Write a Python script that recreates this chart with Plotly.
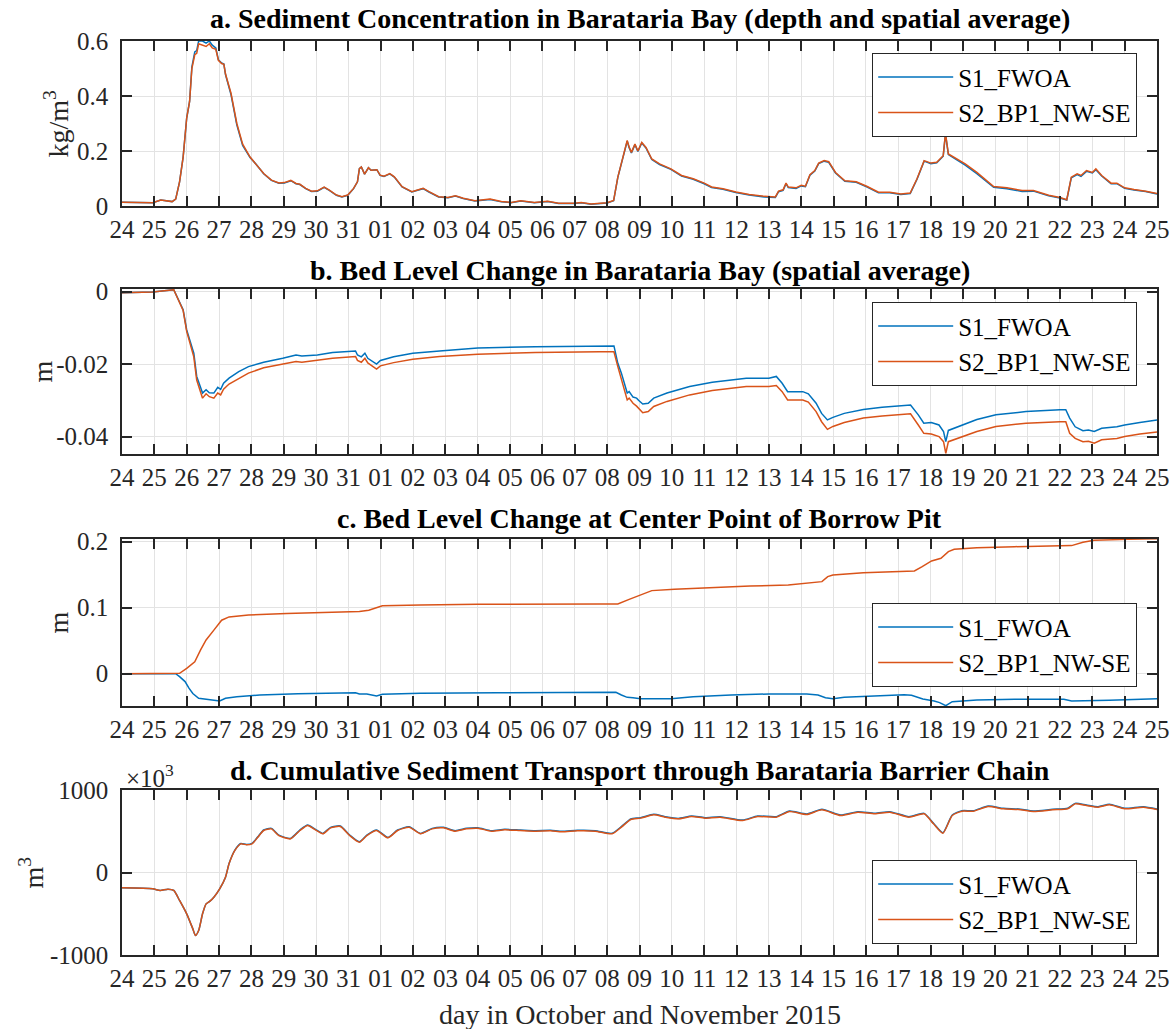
import plotly.graph_objects as go

# ---------------- data ----------------
# time axis: days since 24 Oct 2015 00:00
tick_vals = [0, 1, 2, 3, 4, 5, 6, 7, 8, 9, 10, 11, 12, 13, 14, 15, 16,
             17, 18, 19, 20, 21, 22, 23, 24, 25, 26, 27, 28, 29, 30, 31, 32]
tick_labels = ["24", "25", "26", "27", "28", "29", "30", "31", "01", "02", "03",
               "04", "05", "06", "07", "08", "09", "10", "11", "12", "13", "14",
               "15", "16", "17", "18", "19", "20", "21", "22", "23", "24", "25"]

series_names = ["S1_FWOA", "S2_BP1_NW-SE"]

# a. sediment concentration (kg/m3)
t_a = [0, 0.5, 0.95, 1.2, 1.4, 1.55, 1.66, 1.78, 1.89, 2.0, 2.09, 2.16, 2.25, 2.31, 2.37,
       2.49, 2.6, 2.7, 2.79, 2.9, 2.98, 3.08, 3.15, 3.2, 3.37, 3.55, 3.73, 3.96, 4.14, 4.38,
       4.62, 4.85, 5.02, 5.22, 5.38, 5.5, 5.68, 5.86, 6.04, 6.25, 6.41, 6.63, 6.8, 6.98, 7.16,
       7.28, 7.34, 7.4, 7.5, 7.62, 7.7, 7.82, 7.88, 7.98, 8.1, 8.28, 8.42, 8.66, 8.96, 9.14,
       9.31, 9.49, 9.79, 10.08, 10.31, 10.55, 10.91, 11.38, 11.73, 12.03, 12.33, 12.75, 13.16,
       13.5, 13.99, 14.2, 14.5, 15.0, 15.2, 15.33, 15.44, 15.5, 15.62, 15.68, 15.75, 15.86,
       15.95, 16.07, 16.2, 16.38, 16.62, 16.97, 17.3, 17.66, 18.0, 18.23, 18.58, 18.98, 19.39,
       19.86, 20.2, 20.3, 20.44, 20.53, 20.6, 20.84, 21.0, 21.13, 21.27, 21.42, 21.54, 21.71,
       21.85, 22.06, 22.35, 22.7, 23.04, 23.39, 23.74, 24.08, 24.37, 24.58, 24.8, 25.01, 25.19,
       25.39, 25.46, 25.55, 25.72, 26.07, 26.43, 26.78, 26.95, 27.36, 27.83, 28.18, 28.65, 29.0,
       29.21, 29.35, 29.53, 29.65, 29.82, 30.0, 30.11, 30.29, 30.58, 30.76, 31.0, 31.29, 31.65,
       32.0]
conc_s2 = [0.014, 0.012, 0.012, 0.022, 0.018, 0.016, 0.025, 0.088, 0.178, 0.32, 0.38, 0.5,
           0.55, 0.555, 0.59, 0.585, 0.58, 0.59, 0.575, 0.57, 0.53, 0.518, 0.515, 0.48, 0.41,
           0.3, 0.225, 0.178, 0.154, 0.118, 0.094, 0.084, 0.085, 0.093, 0.082, 0.079, 0.064,
           0.054, 0.055, 0.069, 0.058, 0.04, 0.034, 0.04, 0.064, 0.088, 0.136, 0.142, 0.116,
           0.139, 0.13, 0.13, 0.132, 0.112, 0.108, 0.118, 0.106, 0.07, 0.052, 0.058, 0.064,
           0.052, 0.034, 0.031, 0.037, 0.028, 0.019, 0.025, 0.016, 0.013, 0.019, 0.013, 0.017,
           0.01, 0.01, 0.013, 0.007, 0.012, 0.02, 0.105, 0.153, 0.177, 0.238, 0.214, 0.195,
           0.225, 0.2, 0.231, 0.213, 0.171, 0.153, 0.135, 0.111, 0.099, 0.083, 0.069, 0.063,
           0.051, 0.042, 0.035, 0.033, 0.054, 0.059, 0.083, 0.069, 0.066, 0.075, 0.072, 0.114,
           0.129, 0.156, 0.165, 0.161, 0.122, 0.092, 0.088, 0.071, 0.05, 0.05, 0.044, 0.047,
           0.099, 0.165, 0.156, 0.159, 0.183, 0.264, 0.189, 0.177, 0.153, 0.122, 0.087, 0.071,
           0.066, 0.056, 0.056, 0.039, 0.031, 0.023, 0.105, 0.117, 0.111, 0.129, 0.122, 0.135,
           0.111, 0.083, 0.083, 0.066, 0.06, 0.054, 0.045]
conc_s1 = [0.014, 0.012, 0.012, 0.022, 0.018, 0.016, 0.025, 0.088, 0.178, 0.32, 0.38, 0.505,
           0.56, 0.565, 0.6, 0.6, 0.592, 0.6, 0.585, 0.575, 0.532, 0.52, 0.516, 0.478, 0.405,
           0.295, 0.22, 0.176, 0.153, 0.117, 0.093, 0.083, 0.084, 0.092, 0.081, 0.078, 0.063,
           0.053, 0.054, 0.068, 0.057, 0.039, 0.033, 0.039, 0.063, 0.088, 0.136, 0.142, 0.116,
           0.139, 0.13, 0.13, 0.132, 0.111, 0.107, 0.117, 0.105, 0.069, 0.051, 0.057, 0.063,
           0.051, 0.033, 0.03, 0.036, 0.027, 0.018, 0.024, 0.015, 0.012, 0.018, 0.012, 0.016,
           0.009, 0.009, 0.012, 0.006, 0.011, 0.019, 0.104, 0.152, 0.176, 0.236, 0.212, 0.193,
           0.223, 0.198, 0.229, 0.211, 0.169, 0.151, 0.133, 0.109, 0.097, 0.081, 0.067, 0.061,
           0.049, 0.04, 0.033, 0.031, 0.052, 0.057, 0.081, 0.067, 0.064, 0.073, 0.07, 0.112,
           0.127, 0.154, 0.163, 0.159, 0.12, 0.09, 0.086, 0.069, 0.048, 0.048, 0.042, 0.045,
           0.097, 0.163, 0.154, 0.157, 0.181, 0.262, 0.187, 0.174, 0.149, 0.118, 0.083, 0.068,
           0.063, 0.053, 0.054, 0.037, 0.029, 0.022, 0.102, 0.114, 0.108, 0.126, 0.12, 0.132,
           0.109, 0.081, 0.081, 0.064, 0.058, 0.053, 0.044]

# b. bed level change in Barataria Bay (m)
t_b = [0, 0.95, 1.6, 1.72, 1.89, 2.0, 2.13, 2.22, 2.31, 2.39, 2.49, 2.6, 2.7, 2.84, 2.96,
       3.05, 3.14, 3.31, 3.61, 3.91, 4.38, 4.97, 5.38, 5.56, 6.04, 6.51, 7.22, 7.28, 7.4,
       7.51, 7.6, 7.87, 7.99, 8.4, 8.99, 9.82, 11.0, 12.78, 14.77, 15.21, 15.33, 15.44, 15.62,
       15.68, 15.8, 15.91, 15.97, 16.1, 16.27, 16.44, 16.85, 17.55, 18.25, 19.3, 20.0, 20.23,
       20.41, 20.58, 21.05, 21.22, 21.46, 21.63, 21.81, 21.98, 22.33, 22.92, 23.5, 24.09,
       24.38, 24.62, 24.79, 25.02, 25.26, 25.4, 25.47, 25.55, 25.85, 26.43, 27.02, 27.95, 29.0,
       29.18, 29.3, 29.47, 29.71, 29.88, 30.06, 30.29, 30.76, 31.0, 31.47, 32.0]
bed_bay_s1 = [-0.0003, -0.0001, 0.0005, -0.0018, -0.005, -0.0106, -0.0143, -0.017, -0.0234,
              -0.0253, -0.028, -0.0271, -0.0279, -0.028, -0.0264, -0.027, -0.0253, -0.0239,
              -0.0221, -0.0207, -0.0195, -0.0184, -0.0175, -0.0178, -0.0175, -0.0168, -0.0164,
              -0.0175, -0.018, -0.017, -0.0184, -0.02, -0.019, -0.018, -0.017, -0.0164, -0.0156,
              -0.0152, -0.015, -0.015, -0.0198, -0.0225, -0.028, -0.0276, -0.0291, -0.0294,
              -0.03, -0.031, -0.0308, -0.0294, -0.028, -0.0262, -0.025, -0.0239, -0.0239,
              -0.0234, -0.0253, -0.0276, -0.0276, -0.0282, -0.0308, -0.0336, -0.0354, -0.0347,
              -0.0336, -0.0325, -0.0319, -0.0315, -0.0313, -0.034, -0.0363, -0.0361, -0.0368,
              -0.0386, -0.0414, -0.0383, -0.0373, -0.0353, -0.034, -0.0331, -0.0326, -0.0326,
              -0.0349, -0.0373, -0.0384, -0.0382, -0.0386, -0.0377, -0.0373, -0.0368, -0.0361,
              -0.0354]
bed_bay_s2 = [-0.0003, -0.0001, 0.0005, -0.0018, -0.0052, -0.011, -0.015, -0.018, -0.0244,
              -0.0267, -0.0294, -0.0282, -0.029, -0.0294, -0.028, -0.0285, -0.0269, -0.0255,
              -0.0239, -0.0225, -0.021, -0.02, -0.0193, -0.0195, -0.019, -0.0184, -0.0179,
              -0.019, -0.0195, -0.0184, -0.0197, -0.0214, -0.0205, -0.0196, -0.0187, -0.0179,
              -0.0173, -0.0168, -0.0166, -0.0166, -0.0207, -0.0244, -0.0299, -0.0294, -0.0308,
              -0.0316, -0.0322, -0.0334, -0.0331, -0.0317, -0.0303, -0.0285, -0.0273, -0.0262,
              -0.0262, -0.0259, -0.0276, -0.0299, -0.0299, -0.0305, -0.0331, -0.0359, -0.038,
              -0.0372, -0.0361, -0.0349, -0.0343, -0.034, -0.0337, -0.0368, -0.0391, -0.0393,
              -0.04, -0.0414, -0.0446, -0.0414, -0.0405, -0.0386, -0.0372, -0.0363, -0.0359,
              -0.0359, -0.0391, -0.0405, -0.0414, -0.0413, -0.0418, -0.0409, -0.0405, -0.04,
              -0.0393, -0.0387]

# c. bed level change at center point of borrow pit (m)
t_c1 = [0, 1.66, 1.78, 1.95, 2.07, 2.19, 2.37, 2.6, 2.84, 3.02, 3.2, 3.55, 4.26, 5.44, 7.22,
        7.34, 7.57, 7.87, 8.05, 9.23, 11.6, 14.77, 15.27, 15.44, 15.62, 15.8, 16.03, 16.97,
        17.66, 18.83, 20.0, 21.17, 21.52, 21.75, 21.98, 22.33, 23.25, 24.18, 24.41, 24.76,
        25.11, 25.28, 25.47, 25.67, 26.43, 27.6, 29.12, 29.36, 30.53, 32.0]
bed_pit_s1 = [0, 0, -0.0045, -0.012, -0.022, -0.03, -0.0374, -0.0389, -0.041, -0.0414,
              -0.0374, -0.035, -0.0323, -0.0303, -0.0288, -0.0308, -0.0308, -0.0338, -0.0313,
              -0.0298, -0.0288, -0.0283, -0.0283, -0.0323, -0.0359, -0.0364, -0.0379, -0.0379,
              -0.0348, -0.0323, -0.0308, -0.0308, -0.0323, -0.0364, -0.0379, -0.0359, -0.0338,
              -0.0318, -0.0328, -0.0384, -0.0414, -0.0439, -0.0485, -0.0424, -0.0399, -0.0389,
              -0.0389, -0.0414, -0.0404, -0.0379]
t_c2 = [0, 1.66, 1.78, 2.0, 2.25, 2.43, 2.6, 2.84, 3.08, 3.31, 3.91, 5.09, 6.27, 7.34, 7.63,
        8.05, 9.23, 11.0, 14.77, 15.33, 15.68, 16.03, 16.38, 17.08, 18.25, 19.42, 20.6, 21.18,
        21.64, 21.82, 21.98, 22.92, 24.09, 24.5, 24.74, 25.03, 25.32, 25.55, 25.73, 26.43,
        27.6, 28.77, 29.36, 29.71, 30.06, 31.11, 32.0]
bed_pit_s2 = [0, 0, 0.0005, 0.008, 0.018, 0.036, 0.051, 0.066, 0.081, 0.086, 0.089, 0.091,
              0.093, 0.094, 0.096, 0.103, 0.104, 0.105, 0.1056, 0.1056, 0.1126, 0.119, 0.1258,
              0.1278, 0.1308, 0.1328, 0.1343, 0.1369, 0.1394, 0.147, 0.1495, 0.153, 0.1545,
              0.1556, 0.1621, 0.1707, 0.1747, 0.1848, 0.1884, 0.1909, 0.1924, 0.1934, 0.194,
              0.199, 0.202, 0.2035, 0.2045]

# d. cumulative sediment transport (x10^3 m3)
t_d = [0, 0.95, 1.18, 1.42, 1.6, 1.78, 2.0, 2.19, 2.27, 2.37, 2.49, 2.6, 2.72, 2.84, 3.02,
       3.2, 3.31, 3.49, 3.67, 3.85, 4.02, 4.2, 4.38, 4.62, 4.85, 5.21, 5.5, 5.74, 5.98, 6.21,
       6.45, 6.75, 7.04, 7.34, 7.57, 7.87, 8.22, 8.52, 8.88, 9.23, 9.59, 9.94, 10.3, 10.65,
       11.0, 11.42, 11.83, 12.31, 12.78, 13.25, 13.6, 14.08, 14.63, 15.15, 15.44, 15.73,
       16.03, 16.44, 16.79, 17.2, 17.61, 18.02, 18.49, 19.19, 19.65, 20.23, 20.64, 21.17,
       21.64, 22.22, 22.75, 23.28, 23.74, 24.33, 24.8, 25.09, 25.38, 25.67, 25.97, 26.32,
       26.78, 27.25, 27.72, 28.18, 28.77, 29.24, 29.47, 29.82, 30.18, 30.53, 31.0, 31.58, 32.0]
transport_s2 = [-186, -198, -218, -202, -218, -339, -501, -683, -764, -703, -501, -380, -347,
                -299, -198, -57, 105, 267, 347, 335, 347, 428, 509, 529, 448, 408, 509, 570,
                517, 469, 541, 558, 448, 368, 448, 509, 420, 509, 549, 469, 529, 541, 501,
                529, 537, 501, 517, 509, 501, 505, 493, 505, 501, 469, 550, 643, 659, 699,
                671, 650, 679, 659, 671, 630, 679, 671, 739, 703, 760, 691, 731, 711, 731,
                671, 711, 590, 477, 691, 743, 743, 800, 772, 764, 739, 760, 772, 832, 812,
                792, 820, 772, 792, 764]
transport_s1 = [-186, -198, -218, -202, -218, -339, -501, -683, -764, -703, -501, -380, -347,
                -299, -198, -57, 108, 272, 352, 340, 352, 433, 515, 535, 453, 413, 515, 576,
                523, 474, 547, 564, 453, 373, 453, 515, 425, 515, 555, 474, 535, 547, 507,
                535, 543, 507, 523, 515, 507, 511, 499, 511, 507, 475, 556, 649, 665, 705,
                677, 656, 685, 665, 677, 636, 685, 677, 745, 709, 766, 697, 737, 717, 737,
                677, 717, 596, 483, 697, 749, 749, 806, 778, 770, 745, 766, 778, 838, 818,
                798, 826, 778, 798, 770]

# ---------------- figure ----------------
W, H = 1172, 1029
BLUE = "#0072BD"
ORANGE = "#D95319"
FONT = "Liberation Serif"
AX = "#262626"
FS = 25      # axes font size
FT = 28      # title / label font size


def px_x(p):
    return p / W


def px_y(p):
    return 1 - p / H


x_dom = [px_x(122), px_x(1157)]
# (top, bottom) pixel rows of each panel
panels = [(41, 206), (289, 454), (539, 706), (790, 955)]
y_doms = [[px_y(b), px_y(t)] for (t, b) in panels]

fig = go.Figure()

panel_data = [
    ((t_a, conc_s1), (t_a, conc_s2)),
    ((t_b, bed_bay_s1), (t_b, bed_bay_s2)),
    ((t_c1, bed_pit_s1), (t_c2, bed_pit_s2)),
    ((t_d, transport_s1), (t_d, transport_s2)),
]
legend_ids = ["legend", "legend2", "legend3", "legend4"]
for i, (s1, s2) in enumerate(panel_data):
    xa = "x" if i == 0 else f"x{i+1}"
    ya = "y" if i == 0 else f"y{i+1}"
    shape = "spline" if i == 3 else "linear"
    for (tt, vv), name, col in ((s1, series_names[0], BLUE), (s2, series_names[1], ORANGE)):
        fig.add_trace(go.Scatter(x=tt, y=vv, mode="lines", name=name, xaxis=xa, yaxis=ya,
                                 line=dict(color=col, width=1.5, shape=shape, smoothing=0.6),
                                 legend=legend_ids[i]))

y_ranges = [[0, 0.6], [-0.0448, 0.0007], [-0.049, 0.204], [-1000, 1000]]
y_ticks = [[0, 0.2, 0.4, 0.6], [-0.04, -0.02, 0], [0, 0.1, 0.2], [-1000, 0, 1000]]
y_ticktext = [["0", "0.2", "0.4", "0.6"], ["-0.04", "-0.02", "0"], ["0", "0.1", "0.2"],
              ["-1000", "0", "1000"]]

layout = dict(width=W, height=H, margin=dict(l=0, r=0, t=0, b=0, autoexpand=False),
              paper_bgcolor="white", plot_bgcolor="white",
              font=dict(family=FONT, size=FS, color=AX))

for i in range(4):
    xk = "xaxis" if i == 0 else f"xaxis{i+1}"
    yk = "yaxis" if i == 0 else f"yaxis{i+1}"
    ya = "y" if i == 0 else f"y{i+1}"
    xa = "x" if i == 0 else f"x{i+1}"
    layout[xk] = dict(domain=x_dom, anchor=ya, range=[0, 32], tickmode="array",
                      tickvals=tick_vals, ticktext=tick_labels, ticks="inside", ticklen=10,
                      tickwidth=2, tickcolor=AX, showline=True, linecolor=AX, linewidth=1.5,
                      mirror="ticks", showgrid=True, gridcolor="#e3e3e3", gridwidth=1,
                      zeroline=False, tickfont=dict(size=FS, family=FONT, color=AX),
                      ticklabelstandoff=0)
    layout[yk] = dict(domain=y_doms[i], anchor=xa, range=y_ranges[i], tickmode="array",
                      tickvals=y_ticks[i], ticktext=y_ticktext[i], ticks="inside",
                      ticklen=10, tickwidth=2, tickcolor=AX, showline=True, linecolor=AX,
                      linewidth=1.5, mirror="ticks", showgrid=True, gridcolor="#e3e3e3",
                      gridwidth=1, zeroline=False,
                      tickfont=dict(size=FS, family=FONT, color=AX), ticklabelstandoff=7)

legend_tops = [53, 302, 603, 860]
for i, lid in enumerate(legend_ids):
    layout[lid] = dict(x=px_x(1137), y=px_y(legend_tops[i]), xanchor="right", yanchor="top",
                       bgcolor="white", bordercolor=AX, borderwidth=1.2,
                       font=dict(family=FONT, size=FS, color="black"),
                       itemwidth=75, tracegroupgap=0)

fig.update_layout(**layout)

titles = ["a. Sediment Concentration in Barataria Bay (depth and spatial average)",
          "b. Bed Level Change in Barataria Bay (spatial average)",
          "c. Bed Level Change at Center Point of Borrow Pit",
          "d. Cumulative Sediment Transport through Barataria Barrier Chain"]
title_rows = [18, 270, 518, 770]
xc = (x_dom[0] + x_dom[1]) / 2
for txt, yr in zip(titles, title_rows):
    fig.add_annotation(text=f"<b>{txt}</b>", x=xc, y=px_y(yr), xref="paper", yref="paper",
                       xanchor="center", yanchor="middle", showarrow=False,
                       font=dict(family=FONT, size=FT, color="black"))

ylabels = ["kg/m<sup>3</sup>", "m", "m", "m<sup>3</sup>"]
ylabel_x = [57, 42, 58, 32]
for i, lab in enumerate(ylabels):
    t, b = panels[i]
    fig.add_annotation(text=lab, x=px_x(ylabel_x[i]), y=px_y((t + b) / 2), xref="paper",
                       yref="paper", xanchor="center", yanchor="middle", textangle=-90,
                       showarrow=False, font=dict(family=FONT, size=FT, color=AX))

fig.add_annotation(text="×10<sup>3</sup>", x=px_x(124), y=px_y(776), xref="paper",
                   yref="paper", xanchor="left", yanchor="middle", showarrow=False,
                   font=dict(family=FONT, size=FS, color=AX))
fig.add_annotation(text="day in October and November 2015", x=xc, y=px_y(1014),
                   xref="paper", yref="paper", xanchor="center", yanchor="middle",
                   showarrow=False, font=dict(family=FONT, size=FT, color=AX))

# remove the default page margin so the figure fills the window exactly
fig.write_html("out.html", config={"displayModeBar": False},
               post_script="document.body.style.margin='0';"
                           "document.body.style.overflow='hidden';")
